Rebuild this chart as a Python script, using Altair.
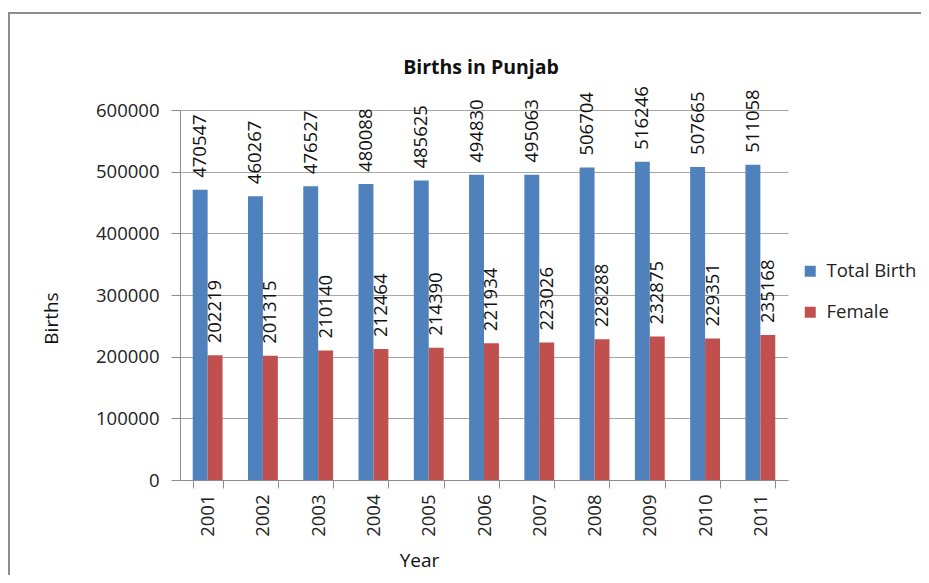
import altair as alt
import pandas as pd

years = ["2001", "2002", "2003", "2004", "2005", "2006", "2007", "2008", "2009", "2010", "2011"]
total_birth = [470547, 460267, 476527, 480088, 485625, 494830, 495063, 506704, 516246, 507665, 511058]
female = [202219, 201315, 210140, 212464, 214390, 221934, 223026, 228288, 232875, 229351, 235168]
series = ["Total Birth", "Female"]
colors = ["#4F81BD", "#C0504D"]
y_ticks = [0, 100000, 200000, 300000, 400000, 500000, 600000]

rows = []
for i, y in enumerate(years):
    rows.append({"Year": y, "Series": series[0], "Births": total_birth[i]})
    rows.append({"Year": y, "Series": series[1], "Births": female[i]})
df = pd.DataFrame(rows)

FONT = "Open Sans"
FS = 18.5

x_enc = alt.X(
    "Year:N",
    sort=years,
    scale=alt.Scale(paddingInner=0.46, paddingOuter=0.23),
    axis=alt.Axis(
        title="Year",
        labelAngle=270,
        labelFontSize=FS,
        labelColor="#222222",
        labelPadding=6,
        tickBand="extent",
        tickSize=8,
        tickColor="#8C8C8C",
        domainColor="#8C8C8C",
        grid=False,
        titleFontSize=19,
        titleFontWeight="normal",
        titleColor="#111111",
        titleX=239,
        titleY=80,
        titleAlign="center",
        titleBaseline="middle",
    ),
)
xoff = alt.XOffset("Series:N", sort=series, scale=alt.Scale(paddingInner=0, paddingOuter=0))
y_enc = alt.Y(
    "Births:Q",
    scale=alt.Scale(domain=[0, 600000], nice=False),
    axis=alt.Axis(
        title="Births",
        values=y_ticks,
        format="d",
        labelFontSize=FS,
        labelColor="#222222",
        labelPadding=12,
        tickSize=9,
        tickColor="#8C8C8C",
        domainColor="#8C8C8C",
        gridColor="#A6A6A6",
        titleFontSize=19,
        titleFontWeight="normal",
        titleColor="#111111",
        titleAngle=270,
        titleX=-129,
        titleY=208,
        titleAlign="center",
        titleBaseline="middle",
    ),
)
color_enc = alt.Color(
    "Series:N",
    sort=series,
    scale=alt.Scale(domain=series, range=colors),
    legend=alt.Legend(
        title=None,
        orient="none",
        legendX=621,
        legendY=152,
        symbolType="square",
        symbolSize=121,
        symbolStrokeWidth=0,
        labelFontSize=FS,
        labelColor="#222222",
        labelOffset=7,
        rowPadding=22,
    ),
)

bars = alt.Chart(df).mark_bar().encode(x=x_enc, xOffset=xoff, y=y_enc, color=color_enc)

labels = alt.Chart(df).mark_text(
    angle=270, align="left", baseline="middle", dx=12, fontSize=FS, font=FONT, color="#111111"
).encode(
    x=alt.X("Year:N", sort=years),
    xOffset=alt.XOffset("Series:N", sort=series),
    y="Births:Q",
    text="Births:Q",
)

frame_df = pd.DataFrame({"k": [0]})
border_top = alt.Chart(frame_df).mark_rule(stroke="#8C8C8C", strokeWidth=2).encode(
    x=alt.value(-172), x2=alt.value(760), y=alt.value(-97)
)
border_left = alt.Chart(frame_df).mark_rule(stroke="#8C8C8C", strokeWidth=2).encode(
    x=alt.value(-171), y=alt.value(-98), y2=alt.value(600)
)
title = alt.Chart(frame_df).mark_text(
    text="Births in Punjab", fontSize=19.5, fontWeight="bold", font=FONT, color="#111111",
    align="center", baseline="alphabetic"
).encode(x=alt.value(301), y=alt.value(-36))

chart = alt.layer(border_top, border_left, bars, labels, title).properties(
    width=608,
    height=370,
    autosize=alt.AutoSizeParams(type="none"),
    padding={"left": 172, "top": 102, "right": 133, "bottom": 95},
).configure(font=FONT).configure_view(stroke=None).configure_axis(labelFont=FONT, titleFont=FONT).configure_legend(labelFont=FONT)

chart.save("out.html", embed_options={"renderer": "svg", "actions": False})
